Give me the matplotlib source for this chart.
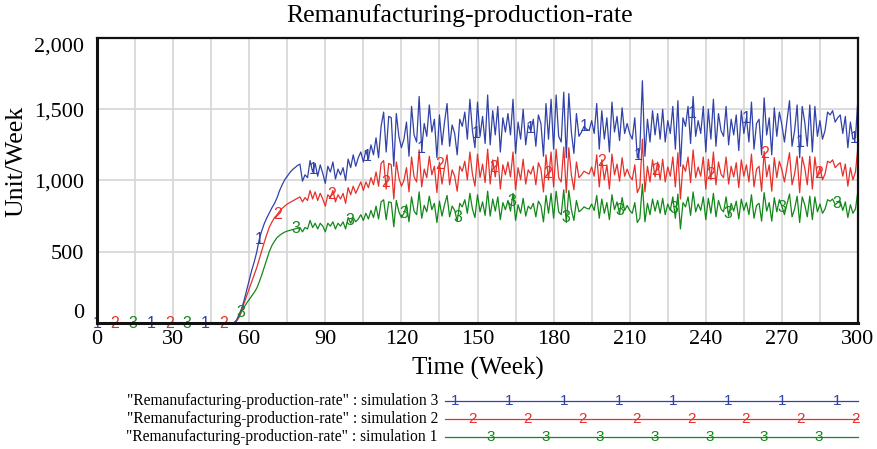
import matplotlib
matplotlib.use('Agg')
import matplotlib.pyplot as plt
from matplotlib.lines import Line2D
import numpy as np

weeks = np.arange(0, 301)

# simulation 3 (blue)
sim3 = [0] * 54 + [
    0, 20, 60, 100, 160, 230, 300, 370, 430, 500, 590, 650, 700, 740, 775, 810,
    840, 880, 930, 970, 1005, 1030, 1055, 1075, 1090, 1105, 1115,
    995, 1040, 1020, 1140, 1060, 1120, 1030, 1110, 1050, 980,
    1100, 1060, 1130, 1010, 1080, 1040, 1090, 1000, 1150, 1090,
    1180, 1100, 1160, 1200, 1130, 1210, 1150, 1250, 1180, 1300,
    1160, 1380,
    1480, 1200, 1450, 1440, 1100, 1470, 1310, 1230, 1290, 1410,
    1170, 1520, 1320, 1270, 1590, 1220, 1400, 1310, 1530, 1340,
    1430, 1160, 1460, 1250, 1410, 1540, 1240, 1390, 1330, 1180,
    1430, 1380, 1480, 1290, 1570, 1350, 1230, 1550, 1310, 1450,
    1260, 1600, 1250, 1490, 1320, 1520, 1200, 1440, 1340, 1470,
    1320, 1570, 1190, 1410, 1290, 1500, 1250, 1390, 1350, 1430,
    1240, 1460, 1400, 1170, 1540, 1290, 1570, 1220, 1600, 1310,
    1270, 1620, 1160, 1610, 1340, 1190, 1470, 1310, 1340, 1380,
    1360, 1350, 1420, 1330, 1540, 1220, 1490, 1290, 1440, 1200,
    1550, 1340, 1450, 1280, 1510, 1330, 1400, 1330, 1290, 1440,
    1160, 1220, 1700, 1170, 1430, 1270, 1490, 1320, 1470, 1290,
    1500, 1270, 1420, 1330, 1520, 1220, 1560, 1100, 1440, 1380,
    1520, 1260, 1590, 1310, 1420, 1330, 1520, 1200, 1500, 1290,
    1570, 1240, 1470, 1350, 1310, 1520, 1250, 1430, 1320, 1460,
    1210, 1490, 1330, 1440, 1270, 1550, 1220, 1400, 1430, 1180,
    1580, 1320, 1440, 1180, 1510, 1310, 1480, 1390, 1270, 1420,
    1560, 1240, 1350, 1530, 1160, 1520, 1410, 1240, 1530, 1200,
    1520, 1310, 1420, 1290, 1350, 1480, 1460, 1490, 1410, 1440,
    1460, 1330, 1450, 1230, 1410, 1290, 1300, 1580,
]

# simulation 2 (red)
sim2 = [0] * 54 + [
    0, 15, 45, 90, 140, 190, 240, 290, 340, 390, 450, 510, 570, 625, 675, 710,
    740, 760, 785, 805, 820, 835, 845, 855, 865, 875, 885,
    850, 880, 860, 930, 870, 920, 860, 910, 870, 820,
    900, 880, 930, 850, 900, 870, 910, 840, 950, 900,
    960, 910, 950, 990, 930, 990, 950, 1020, 970, 1060,
    960, 1120,
    1140, 940, 1120, 1110, 870, 1130, 1020, 960, 1000, 1090,
    920, 1165, 1025, 990, 1215, 955, 1080, 1020, 1170, 1040,
    1100, 915, 1125, 975, 1090, 1180, 970, 1075, 1030, 925,
    1100, 1065, 1135, 1005, 1200, 1045, 960, 1185, 1020, 1115,
    985, 1220, 975, 1145, 1025, 1165, 940, 1110, 1040, 1130,
    1025, 1200, 935, 1090, 1005, 1150, 975, 1075, 1045, 1100,
    970, 1125, 1080, 920, 1180, 1005, 1200, 955, 1220, 1020,
    990, 1235, 915, 1230, 1040, 935, 1130, 1020, 1040, 1065,
    1055, 1045, 1095, 1030, 1180, 955, 1145, 1005, 1110, 940,
    1185, 1040, 1115, 995, 1160, 1030, 1080, 1030, 1005, 1110,
    915, 955, 1290, 920, 1100, 990, 1145, 1025, 1130, 1005,
    1150, 990, 1095, 1030, 1165, 955, 1195, 870, 1110, 1065,
    1165, 985, 1215, 1020, 1095, 1030, 1165, 940, 1150, 1005,
    1200, 970, 1130, 1045, 1020, 1165, 975, 1100, 1025, 1125,
    950, 1145, 1030, 1110, 990, 1185, 955, 1080, 1100, 925,
    1205, 1025, 1110, 925, 1160, 1020, 1135, 1075, 990, 1095,
    1195, 970, 1045, 1170, 915, 1165, 1090, 970, 1170, 940,
    1165, 1020, 1095, 1005, 1045, 1135, 1125, 1145, 1090, 1110,
    1125, 1030, 1115, 960, 1090, 1005, 1060, 1240,
]

# simulation 1 (green)
sim1 = [0] * 54 + [
    0, 15, 40, 80, 110, 140, 165, 190, 215, 245, 290, 340, 395, 450, 505, 545,
    575, 600, 615, 628, 638, 645, 650, 655, 660, 665, 670,
    640, 670, 660, 720, 670, 700, 660, 700, 680, 640,
    700, 680, 710, 660, 700, 680, 710, 660, 740, 700,
    740, 710, 730, 760, 720, 770, 730, 790, 740, 820,
    730, 850,
    865, 725, 850, 845, 675, 860, 780, 740, 770, 830,
    710, 885, 785, 760, 920, 735, 825, 780, 890, 795,
    840, 705, 855, 750, 830, 895, 745, 820, 790, 715,
    840, 815, 865, 770, 910, 800, 740, 900, 780, 850,
    755, 925, 750, 870, 785, 885, 725, 845, 795, 860,
    785, 910, 720, 830, 770, 875, 750, 820, 800, 840,
    745, 855, 825, 710, 895, 770, 910, 735, 925, 780,
    760, 935, 705, 930, 795, 720, 860, 780, 795, 815,
    805, 800, 835, 790, 895, 735, 870, 770, 845, 725,
    900, 795, 850, 765, 880, 790, 825, 790, 770, 845,
    705, 735, 975, 710, 840, 760, 870, 785, 860, 770,
    875, 760, 835, 790, 885, 735, 905, 660, 845, 815,
    885, 755, 920, 780, 835, 790, 885, 725, 875, 770,
    910, 745, 860, 800, 780, 885, 750, 840, 785, 855,
    730, 870, 790, 845, 760, 900, 735, 825, 840, 715,
    915, 785, 845, 715, 880, 780, 865, 820, 760, 835,
    905, 745, 800, 890, 705, 885, 830, 745, 890, 725,
    885, 780, 835, 770, 800, 865, 855, 870, 830, 845,
    855, 790, 850, 740, 830, 770, 800, 930,
]

series_names = ['"Remanufacturing-production-rate" : simulation 3',
                '"Remanufacturing-production-rate" : simulation 2',
                '"Remanufacturing-production-rate" : simulation 1']
x_ticks = [0, 30, 60, 90, 120, 150, 180, 210, 240, 270, 300]
y_ticks = [0, 500, 1000, 1500, 2000]
y_tick_labels = ['0', '500', '1,000', '1,500', '2,000']

colors = ['#3142a8', '#e8302a', '#13881a']
marks = ['1', '2', '3']
serif = 'Liberation Serif'
sans = 'Liberation Sans'

W, H = 878, 449
fig = plt.figure(figsize=(W / 100, H / 100), dpi=100)
ax = fig.add_axes([97 / W, 1 - 323 / H, (858 - 97) / W, (323 - 38) / H])

all_series = [sim3, sim2, sim1]
period = 21.33
for i in [2, 1, 0]:
    y = np.array(all_series[i], dtype=float)
    ax.plot(weeks, y, color=colors[i], lw=0.9, zorder=3 + (2 - i))
    t = i * period / 3
    while t <= 300:
        ax.text(t, np.interp(t, weeks, y), marks[i], color=colors[i], fontsize=11.5,
                family=sans, ha='center', va='center', zorder=6, clip_on=False)
        t += period

ax.set_xlim(0, 300)
ax.set_ylim(0, 2000)
ax.set_xticks(x_ticks)
ax.set_xticks(np.arange(0, 301, 15), minor=True)
ax.set_yticks(y_ticks)
ax.set_yticklabels(y_tick_labels)
ax.grid(True, which='both', axis='x', color='#d6d6d6', lw=1.2, zorder=0)
ax.grid(True, which='major', axis='y', color='#d6d6d6', lw=1.2, zorder=0)
ax.tick_params(which='both', length=0)
ax.tick_params(axis='y', pad=9, labelsize=16)
ax.tick_params(axis='x', pad=5, labelsize=16)
for lab in ax.get_xticklabels() + ax.get_yticklabels():
    lab.set_family(serif)
ylabs = ax.get_yticklabels()
ylabs[0].set_va('bottom')
ylabs[-1].set_va('top')

for side in ['left', 'bottom']:
    ax.spines[side].set_linewidth(2.2)
for side in ['top', 'right']:
    ax.spines[side].set_linewidth(1.6)
for sp in ax.spines.values():
    sp.set_color('#111111')
    sp.set_zorder(7)

ax.set_xlabel('Time (Week)', family=serif, fontsize=18, labelpad=6)
fig.text(16 / W, 1 - 161 / H, 'Unit/Week', family=serif, fontsize=18.5,
         rotation=90, ha='center', va='center')
fig.text(460 / W, 1 - 16 / H, 'Remanufacturing-production-rate', family=serif,
         fontsize=18.5, ha='center', va='center')

# legend rows below the chart
row_y = [401, 419, 437]
starts = [455, 473, 491]
counts = [8, 8, 7]
for i in range(3):
    yy = 1 - row_y[i] / H
    fig.text(438 / W, yy, series_names[i], family=serif, fontsize=11.2,
             ha='right', va='center')
    fig.add_artist(Line2D([445 / W, 858 / W], [yy, yy], color=colors[i], lw=0.9))
    for k in range(counts[i]):
        fig.text((starts[i] + k * 54.6) / W, yy, marks[i], color=colors[i],
                 fontsize=11, family=sans, ha='center', va='center')

plt.savefig('out.png', dpi=100)
